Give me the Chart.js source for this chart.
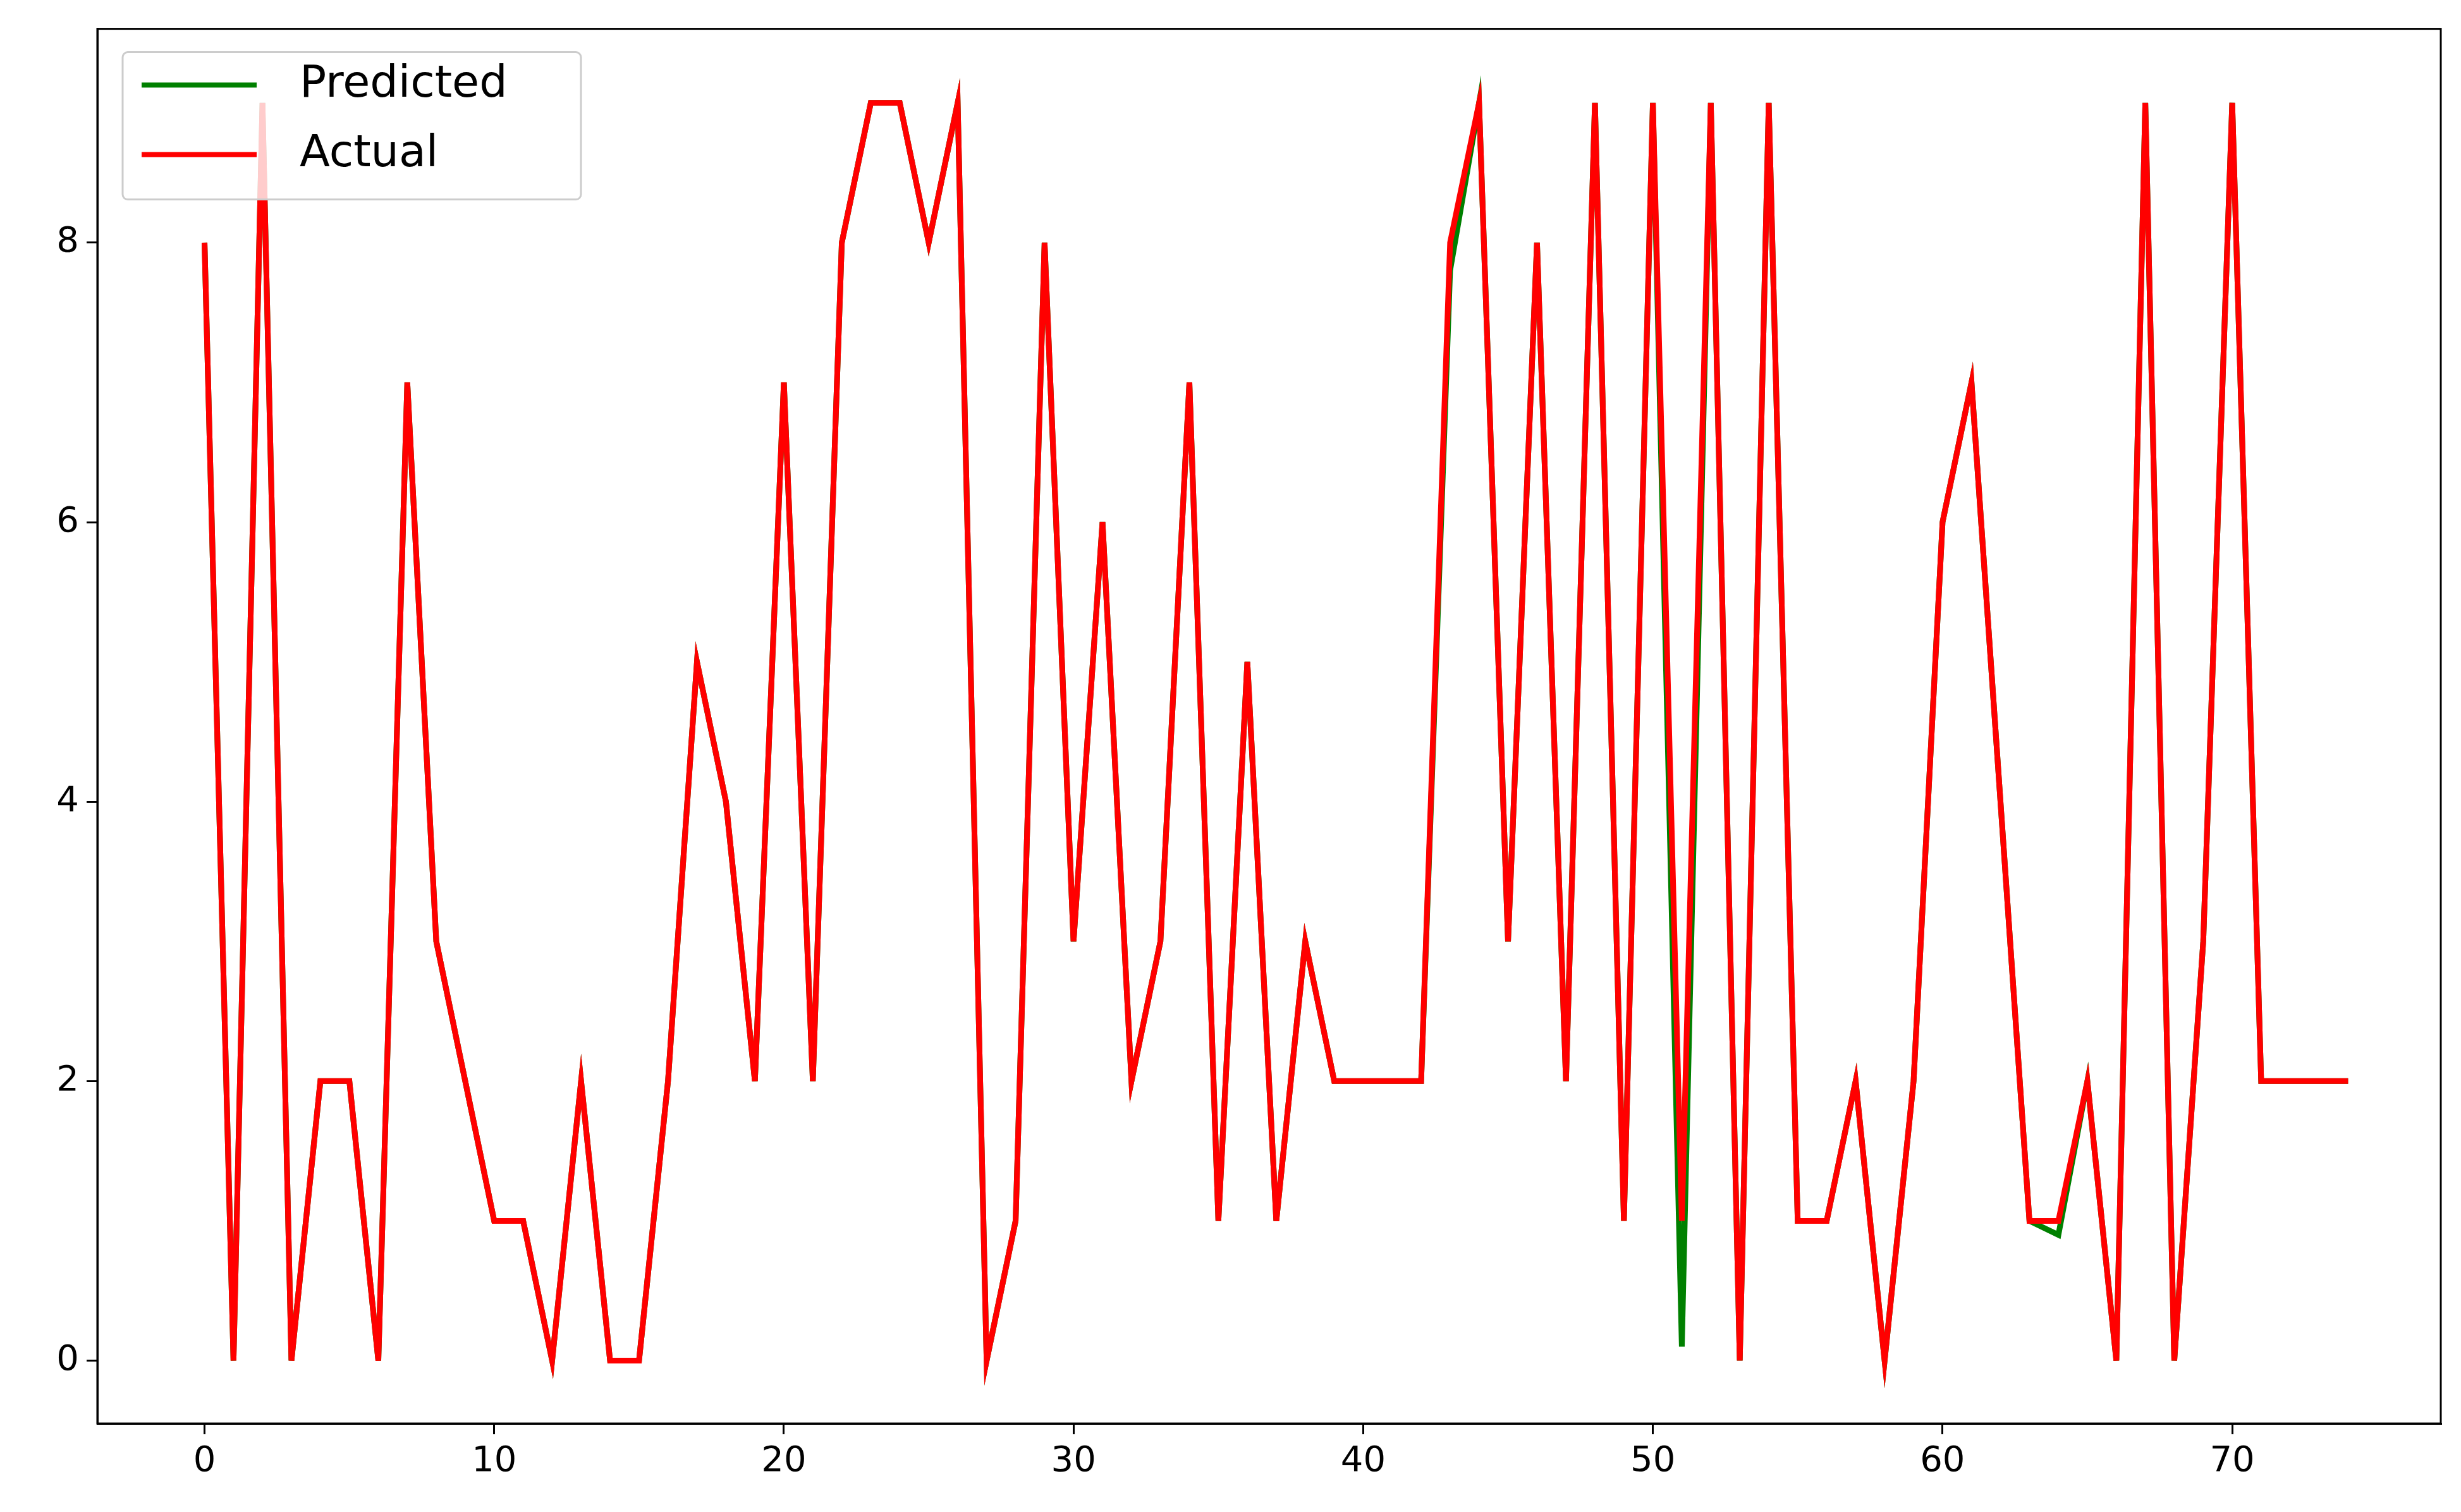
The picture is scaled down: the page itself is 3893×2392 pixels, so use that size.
<!DOCTYPE html>
<html>
<head>
<meta charset="utf-8">
<script src="https://cdn.jsdelivr.net/npm/chart.js@4"></script>
<style>
  html, body { margin: 0; padding: 0; background: #fff; }
  #wrap { width: 3893px; height: 2392px; }
</style>
</head>
<body>
<div id="wrap"><canvas id="chart" width="3893" height="2392"></canvas></div>
<script>
const actual = [8,0,9,0,2,2,0,7,3,2,1,1,0,2,0,0,2,5,4,2,7,2,8,9,9,8,9,0,1,8,
  3,6,2,3,7,1,5,1,3,2,2,2,2,8,9,3,8,2,9,1,9,1,9,0,9,1,1,2,0,2,
  6,7,4,1,1,2,0,9,0,3,9,2,2,2,2];
const predicted = [8,0,9,0,2,2,0,7,3,2,1,1,0,2,0,0,2,5,4,2,7,2,8,9,9,8,9,0,1,8,
  3,6,2,3,7,1,5,1,3,2,2,2,2,7.8,9,3,8,2,9,1,9,0.1,9,0,9,1,1,2,0,2,
  6,7,4,1,0.9,2,0,9,0,3,9,2,2,2,2];
const xTicks = [0,10,20,30,40,50,60,70];
const yTicks = [0,2,4,6,8];

const toPoints = arr => arr.map((v, i) => ({ x: i, y: v }));

const legendBox = {
  id: 'legendBox',
  afterDraw(chart) {
    const ctx = chart.ctx;
    const a = chart.chartArea;
    const x0 = a.left + 40, y0 = a.top + 37;
    ctx.save();
    ctx.fillStyle = 'rgba(255,255,255,0.8)';
    ctx.strokeStyle = '#cccccc';
    ctx.lineWidth = 3;
    ctx.beginPath();
    ctx.roundRect(x0, y0, 725, 233, 8);
    ctx.fill();
    ctx.stroke();
    const items = [['Predicted', '#008000'], ['Actual', '#ff0000']];
    ctx.font = '70px "DejaVu Sans"';
    ctx.textBaseline = 'middle';
    items.forEach(([label, color], i) => {
      const y = y0 + 52 + i * 110;
      ctx.strokeStyle = color;
      ctx.lineWidth = 8;
      ctx.beginPath();
      ctx.moveTo(x0 + 30, y);
      ctx.lineTo(x0 + 212, y);
      ctx.stroke();
      ctx.fillStyle = '#000';
      ctx.fillText(label, x0 + 280, y);
    });
    // frame on all four sides
    ctx.strokeStyle = '#000';
    ctx.lineWidth = 3;
    ctx.strokeRect(a.left, a.top, a.right - a.left, a.bottom - a.top);
    ctx.restore();
  }
};

const ctx = document.getElementById('chart').getContext('2d');
new Chart(ctx, {
  type: 'line',
  data: {
    datasets: [{
      label: 'Predicted',
      data: toPoints(predicted),
      borderColor: '#008000',
      borderWidth: 9,
      pointRadius: 0,
      tension: 0,
      order: 2
    }, {
      label: 'Actual',
      data: toPoints(actual),
      borderColor: '#ff0000',
      borderWidth: 9,
      pointRadius: 0,
      tension: 0,
      order: 1
    }]
  },
  options: {
    responsive: false,
    animation: false,
    devicePixelRatio: 1,
    layout: { padding: { top: 14, right: 32, left: 0, bottom: 0 } },
    plugins: { legend: { display: false }, tooltip: { enabled: false } },
    scales: {
      x: {
        type: 'linear',
        min: -3.7,
        max: 77.2,
        afterBuildTicks: s => { s.ticks = xTicks.map(v => ({ value: v })); },
        afterFit: s => { s.height = 140; },
        grid: { drawOnChartArea: false, drawTicks: true, tickLength: 17, color: '#000', lineWidth: 3 },
        border: { display: true, color: '#000', width: 3 },
        ticks: { color: '#000', font: { family: 'DejaVu Sans', size: 56 }, padding: 10, maxRotation: 0 }
      },
      y: {
        min: -0.45,
        max: 9.53,
        afterBuildTicks: s => { s.ticks = yTicks.map(v => ({ value: v })); },
        afterFit: s => { s.width = 154; },
        grid: { drawOnChartArea: false, drawTicks: true, tickLength: 17, color: '#000', lineWidth: 3 },
        border: { display: true, color: '#000', width: 3 },
        ticks: { color: '#000', font: { family: 'DejaVu Sans', size: 56 }, padding: 12 }
      }
    }
  },
  plugins: [legendBox]
});
</script>
</body>
</html>
